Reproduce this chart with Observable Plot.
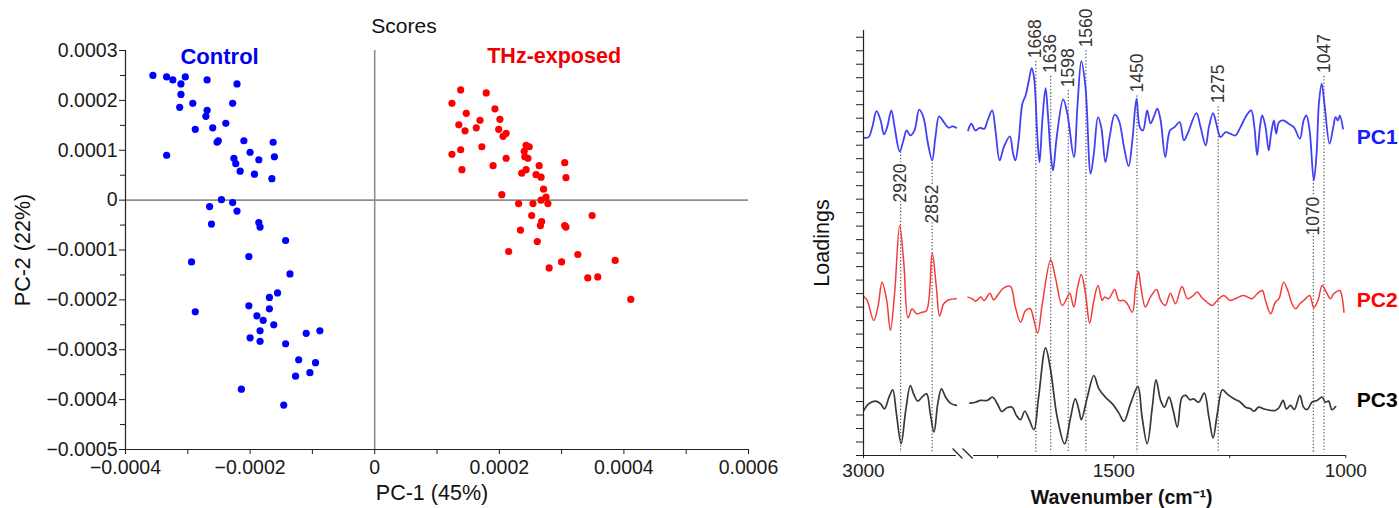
<!DOCTYPE html>
<html><head><meta charset="utf-8">
<script src="https://cdn.jsdelivr.net/npm/d3@7"></script>
<script src="https://cdn.jsdelivr.net/npm/@observablehq/plot@0.6"></script>
<style>
body{margin:0;background:#fff;}
#wrap{position:relative;width:1399px;height:508px;overflow:hidden;background:#fff;}
#wrap svg{position:absolute;top:0;}
</style></head><body><div id="wrap"></div>
<script>
// ---------- Scores (units of 1e-4) ----------
const controlPC1 = [-3.56,-3.34,-3.24,-3.04,-3.11,-2.69,-2.21,-3.11,-3.13,-2.92,-2.28,-2.69,-2.71,-2.39,-2.88,-2.60,-2.53,-2.51,-2.10,-1.63,-3.34,-2.26,-2.23,-2.00,-1.86,-1.61,-2.16,-1.93,-1.65,-2.46,-2.65,-2.28,-2.21,-2.62,-1.86,-1.84,-1.43,-2.94,-2.02,-1.36,-1.56,-1.69,-2.88,-2.02,-1.69,-1.89,-1.79,-1.62,-1.84,-2.00,-1.84,-1.10,-0.88,-1.43,-1.22,-0.95,-1.04,-1.27,-2.14,-1.46];
const controlPC2 = [2.50,2.47,2.41,2.47,2.33,2.41,2.33,2.12,1.86,1.94,1.94,1.80,1.68,1.54,1.42,1.45,1.16,1.19,1.19,1.16,0.90,0.84,0.73,0.96,0.81,0.87,0.58,0.52,0.43,0.01,-0.13,-0.05,-0.22,-0.48,-0.45,-0.54,-0.81,-1.24,-1.13,-1.48,-1.86,-1.95,-2.24,-2.12,-2.18,-2.32,-2.41,-2.50,-2.62,-2.76,-2.83,-2.67,-2.62,-2.88,-3.20,-3.26,-3.46,-3.53,-3.79,-4.11];
const thzPC1 = [1.38,1.79,1.24,1.47,1.93,1.69,2.01,1.35,1.45,1.63,1.99,2.11,2.06,1.24,1.38,1.72,1.40,1.90,2.11,2.43,2.48,2.40,2.41,2.46,2.43,2.36,2.64,2.59,2.67,3.05,3.07,2.71,2.04,2.75,2.67,2.78,2.31,2.54,2.52,2.68,2.66,3.05,3.07,3.49,2.34,2.61,2.15,3.26,3.86,3.00,2.80,3.42,3.58,4.11];
const thzPC2 = [2.21,2.15,1.94,1.74,1.83,1.60,1.62,1.51,1.39,1.45,1.42,1.34,1.28,0.92,1.01,1.07,0.61,0.69,0.84,1.10,1.07,0.98,0.87,0.84,0.61,0.54,0.69,0.51,0.46,0.75,0.45,0.22,0.11,0.06,0.00,-0.07,-0.07,-0.07,-0.31,-0.43,-0.51,-0.51,-0.54,-0.31,-0.60,-0.83,-1.03,-1.09,-1.21,-1.24,-1.36,-1.56,-1.54,-1.99];
const scoreYTicks = [-0.0005,-0.0004,-0.0003,-0.0002,-0.0001,0,0.0001,0.0002,0.0003];
const scoreYMinor = [-0.00045,-0.00035,-0.00025,-0.00015,-0.00005,0.00005,0.00015,0.00025];
const scoreXTicks = [-0.0004,-0.0002,0,0.0002,0.0004,0.0006];
const scoreXMinor = [-0.0003,-0.0001,0.0001,0.0003,0.0005];

// ---------- Loadings: [wavenumber, loading (offset, arbitrary units)] ----------
const pc1High = [[2999,23.55],[2989,23.60],[2981,24.34],[2972,25.52],[2963,24.83],[2956,23.80],[2949,24.34],[2940,25.58],[2933,24.34],[2922,22.54],[2914,23.35],[2907,24.09],[2899,23.72],[2890,24.09],[2880,25.63],[2871,25.08],[2861,23.11],[2852,21.87],[2845,23.60],[2837,25.13],[2827,24.71],[2816,24.29],[2809,24.39],[2800,24.29]];
const pc1Low = [[1814,24.09],[1807,24.59],[1798,24.09],[1789,24.29],[1779,24.22],[1772,24.83],[1762,25.58],[1755,24.09],[1746,21.87],[1737,22.86],[1724,23.65],[1717,22.37],[1712,21.87],[1705,23.35],[1697,26.07],[1690,26.69],[1683,27.80],[1677,28.71],[1672,28.04],[1665,23.85],[1660,21.74],[1654,24.83],[1647,27.23],[1642,25.33],[1636,22.37],[1631,21.13],[1623,23.60],[1609,26.39],[1600,25.33],[1586,22.12],[1578,26.07],[1570,29.23],[1561,27.30],[1550,20.88],[1543,22.37],[1534,25.08],[1527,24.34],[1518,21.74],[1509,23.60],[1498,25.26],[1489,24.83],[1478,22.86],[1468,21.45],[1460,23.35],[1451,26.44],[1444,24.34],[1437,24.09],[1428,25.58],[1421,24.61],[1414,25.08],[1406,25.70],[1399,24.83],[1389,22.12],[1379,24.09],[1369,24.34],[1358,24.71],[1349,23.35],[1341,23.85],[1322,25.38],[1313,24.34],[1302,22.98],[1295,24.34],[1286,25.38],[1279,24.59],[1270,23.60],[1259,23.97],[1249,23.85],[1238,23.72],[1227,24.34],[1214,25.20],[1204,25.58],[1197,24.34],[1191,22.24],[1185,24.34],[1180,25.20],[1173,24.34],[1166,22.61],[1161,23.85],[1155,24.83],[1150,23.85],[1144,24.71],[1134,24.83],[1123,24.59],[1112,24.34],[1099,23.48],[1091,24.83],[1085,25.20],[1078,24.09],[1069,20.39],[1063,22.37],[1058,26.07],[1052,27.56],[1046,26.07],[1035,23.11],[1027,24.34],[1022,25.08],[1017,24.83],[1013,25.20],[1006,24.22]];
const pc2High = [[2999,11.79],[2992,11.49],[2978,10.01],[2969,11.00],[2960,12.85],[2950,11.49],[2942,9.27],[2933,12.00],[2922,17.05],[2913,14.21],[2904,10.21],[2895,10.88],[2886,10.50],[2874,10.62],[2864,10.75],[2852,15.00],[2843,12.48],[2836,10.33],[2827,11.25],[2816,11.54],[2800,11.62]];
const pc2Low = [[1814,11.74],[1805,11.62],[1798,11.44],[1787,11.74],[1779,11.49],[1767,12.03],[1759,11.54],[1748,11.99],[1737,12.43],[1723,12.53],[1712,11.00],[1701,9.88],[1690,10.75],[1680,10.88],[1672,10.01],[1664,9.07],[1654,11.25],[1636,14.51],[1626,13.22],[1611,11.12],[1600,11.74],[1595,12.03],[1586,11.00],[1578,12.48],[1570,13.42],[1561,12.00],[1552,9.81],[1543,11.49],[1534,12.60],[1525,11.49],[1520,11.74],[1511,11.62],[1498,12.30],[1489,11.49],[1478,11.49],[1471,11.25],[1460,10.62],[1453,12.48],[1447,13.66],[1441,12.36],[1432,11.00],[1421,11.74],[1408,12.30],[1399,11.49],[1389,11.12],[1378,12.03],[1367,11.25],[1353,12.53],[1341,11.62],[1331,11.79],[1320,12.11],[1310,11.69],[1299,11.36],[1288,11.12],[1277,11.49],[1263,11.86],[1249,11.49],[1234,11.69],[1220,11.86],[1202,11.62],[1191,11.99],[1180,12.23],[1173,11.49],[1162,10.50],[1152,11.36],[1144,11.62],[1134,12.85],[1125,12.23],[1116,11.25],[1108,10.88],[1099,11.25],[1089,11.54],[1078,11.86],[1069,10.95],[1060,11.49],[1051,12.60],[1042,12.11],[1033,11.62],[1026,11.99],[1013,12.23],[1008,11.74],[1004,10.62]];
const pc3High = [[2999,3.34],[2989,3.83],[2974,4.03],[2963,3.83],[2955,3.46],[2945,4.32],[2937,4.87],[2929,3.09],[2919,0.87],[2909,3.34],[2899,5.19],[2892,4.57],[2883,4.03],[2874,4.32],[2864,4.57],[2856,3.09],[2848,1.73],[2840,3.83],[2832,4.94],[2823,4.32],[2813,3.88],[2800,3.71]];
const pc3Low = [[1810,3.88],[1798,3.95],[1787,4.08],[1773,4.08],[1761,4.32],[1751,3.83],[1741,3.26],[1730,3.54],[1719,3.58],[1710,2.97],[1701,2.65],[1692,3.28],[1683,2.72],[1672,1.91],[1662,4.32],[1647,7.98],[1636,6.30],[1622,2.84],[1606,0.87],[1593,2.84],[1583,4.20],[1575,3.34],[1570,2.65],[1557,4.32],[1543,5.93],[1532,4.94],[1518,4.32],[1503,3.83],[1489,3.14],[1478,2.54],[1464,3.83],[1448,5.11],[1439,2.84],[1428,0.87],[1417,3.58],[1409,5.61],[1399,4.08],[1391,3.58],[1381,4.32],[1372,3.34],[1363,2.10],[1353,4.32],[1345,4.45],[1336,4.13],[1328,4.20],[1317,3.95],[1305,4.62],[1295,2.84],[1286,1.31],[1277,3.09],[1266,4.87],[1256,4.57],[1241,4.20],[1227,3.95],[1216,3.58],[1205,3.46],[1198,3.28],[1188,3.58],[1177,3.46],[1162,3.34],[1152,3.34],[1144,3.54],[1135,4.08],[1128,3.46],[1119,3.71],[1111,3.41],[1099,4.45],[1091,3.58],[1083,3.41],[1073,3.95],[1062,4.08],[1051,4.32],[1044,3.95],[1037,4.03],[1030,3.39],[1022,3.63]];
const peakLabels = ["1668","1636","1598","1560","1450","1275","1047","2920","2852","1070"];
const peakWave = [1668,1636,1598,1560,1450,1275,1047,2920,2852,1070];
const peakTextY = [29.45,28.35,27.3,30.25,26.9,26.1,28.35,18.75,17.2,16.3];
const peakLineTop = [29.2,28.1,27.05,30.0,26.65,25.85,28.1,22.5,21.9,20.4];
const waveTicks = [3000,1750,1500,1250,1000];
const waveTickLabels = ["3000","","1500","","1000"];
const seriesNames = ["PC1","PC2","PC3"];
const seriesLabelY = [23.6,11.5,4.1];

// ---------- build ----------
const FONT = '"Liberation Sans", Arial, Helvetica, sans-serif';
const fmt4 = d => d === 0 ? "0" : (d < 0 ? "\u2212" : "") + Math.abs(d).toFixed(4);
const control = controlPC1.map((x, i) => ({pc1: x * 1e-4, pc2: controlPC2[i] * 1e-4}));
const thz = thzPC1.map((x, i) => ({pc1: x * 1e-4, pc2: thzPC2[i] * 1e-4}));

const left = Plot.plot({
  width: 770, height: 508, marginLeft: 125, marginRight: 22, marginTop: 50, marginBottom: 59,
  style: {fontFamily: FONT, background: "transparent", color: "#1a1a1a", overflow: "visible"},
  x: {domain: [-0.0004, 0.0006]},
  y: {domain: [-0.0005, 0.0003]},
  marks: [
    Plot.ruleX([0], {stroke: "#8f8f8f", strokeWidth: 1.6}),
    Plot.ruleY([0], {stroke: "#8f8f8f", strokeWidth: 1.6}),
    Plot.ruleX([-0.0004], {stroke: "#222", strokeWidth: 1.2}),
    Plot.ruleY([-0.0005], {stroke: "#222", strokeWidth: 1.2}),
    Plot.axisY({ticks: scoreYTicks, tickFormat: fmt4, tickSize: 6, tickPadding: 2, fontSize: 19.5, label: null}),
    Plot.axisY({ticks: scoreYMinor, tickFormat: () => "", tickSize: 5, label: null}),
    Plot.axisX({ticks: scoreXTicks, tickFormat: fmt4, tickSize: 5, tickPadding: 6, fontSize: 19.5, label: null}),
    Plot.axisX({ticks: scoreXMinor, tickFormat: () => "", tickSize: 5, label: null}),
    Plot.dot(control, {x: "pc1", y: "pc2", r: 3.6, fill: "#0000ff", stroke: null}),
    Plot.dot(thz, {x: "pc1", y: "pc2", r: 3.6, fill: "#ff0000", stroke: null}),
    Plot.text(["Control"], {x: -0.000249, y: 0.000288, fill: "#0000ee", fontWeight: "bold", fontSize: 22}),
    Plot.text(["THz-exposed"], {x: 0.000288, y: 0.000288, fill: "#ee0000", fontWeight: "bold", fontSize: 21.5}),
    Plot.text(["Scores"], {frameAnchor: "top", lineAnchor: "middle", dx: -33, dy: -24, fontSize: 21, fill: "#111"}),
    Plot.text(["PC-1 (45%)"], {frameAnchor: "bottom", lineAnchor: "middle", dx: -5, dy: 44, fontSize: 21.5, fill: "#111"}),
    Plot.text(["PC-2 (22%)"], {frameAnchor: "left", textAnchor: "middle", lineAnchor: "middle", dx: -102, rotate: -90, fontSize: 21.5, fill: "#111"})
  ]
});
left.style.left = "0px";

const spectra = [];
[["PC1", "hi", pc1High], ["PC1", "lo", pc1Low], ["PC2", "hi", pc2High], ["PC2", "lo", pc2Low], ["PC3", "hi", pc3High], ["PC3", "lo", pc3Low]]
  .forEach(([s, seg, arr]) => arr.forEach(([w, v]) => spectra.push({series: s, seg: s + seg, w, v})));
const peaks = peakLabels.map((t, i) => ({label: t, w: peakWave[i], ty: peakTextY[i], top: peakLineTop[i]}));
const seriesColors = {PC1: "#4040f5", PC2: "#f23c3c", PC3: "#383838"};
const labelColors = {PC1: "#1a1aff", PC2: "#ff0000", PC3: "#000000"};

const right = Plot.plot({
  width: 639, height: 508, marginLeft: 103, marginRight: 53.7, marginTop: 30, marginBottom: 53,
  style: {fontFamily: FONT, background: "transparent", color: "#222", overflow: "visible"},
  x: {type: "linear", domain: [3000, 2800, 1820, 1000], range: [103, 195.8, 204.8, 585.3]},
  y: {domain: [0, 31.5]},
  marks: [
    Plot.ruleX(peaks, {x: "w", y1: "top", y2: 0.2, stroke: "#555", strokeWidth: 1.2, strokeDasharray: "1.3,2"}),
    Plot.line(spectra.filter(d => d.series === "PC3"), {x: "w", y: "v", z: "seg", stroke: seriesColors.PC3, strokeWidth: 1.7, curve: "catmull-rom"}),
    Plot.line(spectra.filter(d => d.series === "PC2"), {x: "w", y: "v", z: "seg", stroke: seriesColors.PC2, strokeWidth: 1.5, curve: "catmull-rom"}),
    Plot.line(spectra.filter(d => d.series === "PC1"), {x: "w", y: "v", z: "seg", stroke: seriesColors.PC1, strokeWidth: 1.8, curve: "catmull-rom"}),
    Plot.ruleX([3000], {y1: 0, y2: 31.5, stroke: "#222", strokeWidth: 1.2}),
    Plot.ruleY([0], {x1: 3000, x2: 2800, stroke: "#222", strokeWidth: 1.2}),
    Plot.ruleY([0], {x1: 1802, x2: 1000, stroke: "#222", strokeWidth: 1.2}),
    Plot.link([{x1: 2808, x2: 2125, y1: 0.52, y2: -0.22}, {x1: 2125, x2: 1804, y1: 0.52, y2: -0.22}], {x1: "x1", x2: "x2", y1: "y1", y2: "y2", stroke: "#222", strokeWidth: 1.2}),
    Plot.axisY({ticks: d3.range(0, 32), tickFormat: () => "", tickSize: 7, label: null}),
    Plot.axisX({ticks: waveTicks, tickFormat: d => waveTickLabels[waveTicks.indexOf(d)], tickSize: 3, tickPadding: 5, fontSize: 19, label: null}),
    Plot.text(peaks, {x: "w", y: "ty", text: "label", rotate: -90, textAnchor: "start", fontSize: 17.5, fill: "#333", stroke: "white", strokeWidth: 4}),
    ...seriesNames.map((s, i) => Plot.text([s], {x: 1000, y: seriesLabelY[i], dx: 11, textAnchor: "start", fontWeight: "bold", fontSize: 21, fill: labelColors[s]})),
    Plot.text(["Loadings"], {frameAnchor: "left", textAnchor: "middle", lineAnchor: "middle", dx: -41, rotate: -90, fontSize: 21.5, fill: "#111"}),
    Plot.text(["Wavenumber (cm\u207B\u00B9)"], {frameAnchor: "bottom", lineAnchor: "middle", dx: 17, dy: 42, fontSize: 19.5, fontWeight: "bold", fill: "#111"})
  ]
});
right.style.left = "760px";

const wrap = document.getElementById("wrap");
wrap.appendChild(left);
wrap.appendChild(right);
</script></body></html>
